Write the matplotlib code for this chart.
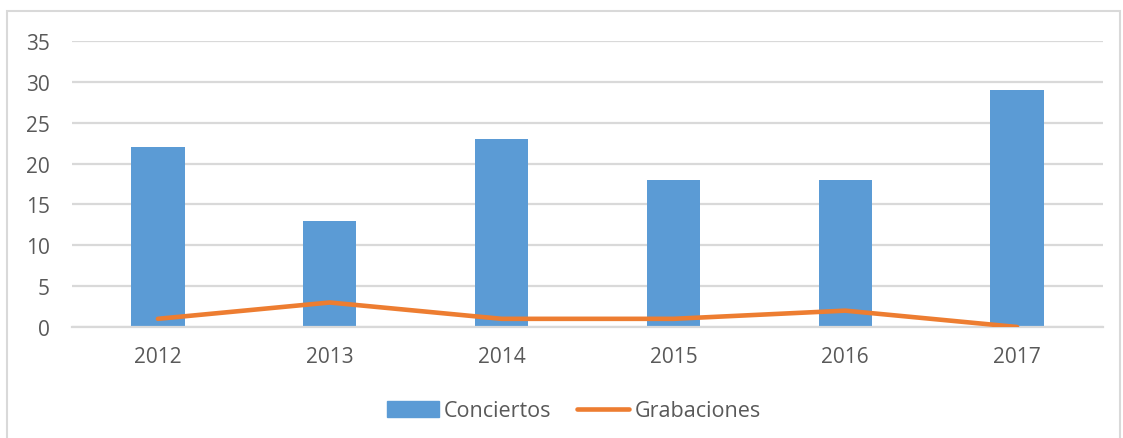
import matplotlib.pyplot as plt
import matplotlib.patches as mpatches
from matplotlib.lines import Line2D
import numpy as np

# Data
years = ['2012', '2013', '2014', '2015', '2016', '2017']
conciertos = [22, 13, 23, 18, 18, 29]
grabaciones = [1, 3, 1, 1, 2, 0]

blue = '#5B9BD5'
orange = '#ED7D31'
text_color = '#595959'
grid_color = '#D9D9D9'

plt.rcParams['font.family'] = ['Open Sans', 'DejaVu Sans']

fig = plt.figure(figsize=(11.23, 4.39), dpi=100)
ax = fig.add_axes([72 / 1123, 1 - 328 / 439, (1103 - 72) / 1123, (328 - 42) / 439])

x = np.arange(len(years))
ax.bar(x, conciertos, width=0.31, color=blue, zorder=2)
ax.plot(x, grabaciones, color=orange, linewidth=3.3, solid_capstyle='round', zorder=3)

ax.set_xlim(-0.5, len(years) - 0.5)
ax.set_ylim(0, 35)
ax.set_yticks(range(0, 36, 5))
ax.set_xticks(x)
ax.set_xticklabels(years)
ax.yaxis.grid(True, color=grid_color, linewidth=1.6, zorder=0)
ax.set_axisbelow(True)
for s in ['top', 'right', 'left']:
    ax.spines[s].set_visible(False)
ax.spines['bottom'].set_color(grid_color)
ax.spines['bottom'].set_linewidth(1.6)
ax.tick_params(axis='both', length=0, labelsize=15, colors=text_color)
ax.tick_params(axis='y', pad=16)
ax.tick_params(axis='x', pad=14)

# Legend at the bottom
handles = [mpatches.Patch(color=blue, label='Conciertos'),
           Line2D([], [], color=orange, linewidth=3.3, solid_capstyle='round', label='Grabaciones')]
leg = fig.legend(handles=handles, loc='center', bbox_to_anchor=(0.511, 1 - 412 / 439), ncol=2,
                 frameon=False, fontsize=15.5, handlelength=2.4, handleheight=0.7,
                 handletextpad=0.25, columnspacing=1.2, labelcolor=text_color)

# Light chart border
fig.add_artist(mpatches.Rectangle((7 / 1123, -0.01), (1120 - 7) / 1123, 1 - 12 / 439 + 0.01,
                                  transform=fig.transFigure, fill=False,
                                  edgecolor='#D9D9D9', linewidth=1.5))

fig.savefig('out.png', dpi=100)
